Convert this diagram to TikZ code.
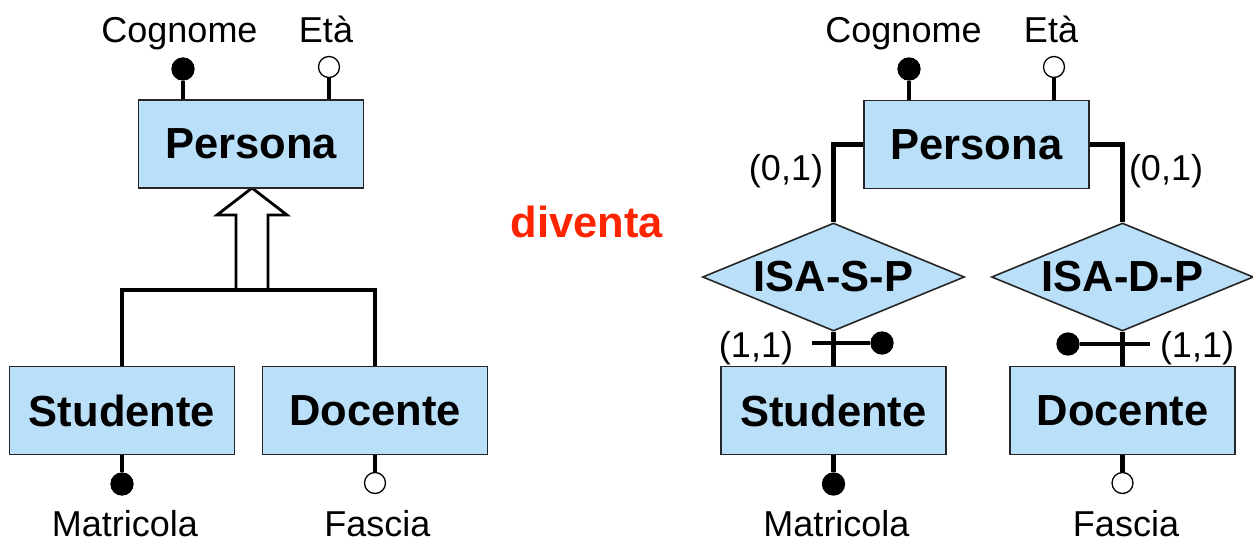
\documentclass[tikz,border=0pt]{standalone}
\usepackage{fontspec}
\setmainfont{Liberation Sans}
\usetikzlibrary{shapes.geometric}
\definecolor{entfill}{RGB}{186,223,248}
\definecolor{redtxt}{RGB}{255,36,0}
\begin{document}
\begin{tikzpicture}[x=1pt,y=-1pt,
  entity/.style={draw=black!85, fill=entfill, line width=1.6pt, minimum width=225pt, minimum height=88pt, inner sep=0pt, font=\fontsize{43.5}{48}\selectfont\bfseries},
  rel/.style={diamond, draw=black!85, fill=entfill, line width=1.6pt, aspect=2.43, minimum width=262pt, minimum height=108pt, inner sep=0pt, font=\fontsize{43.5}{48}\selectfont\bfseries},
  lab/.style={anchor=base, inner sep=0pt, font=\fontsize{36}{40}\selectfont},
  conn/.style={line width=4.3pt},
  keydot/.style={circle, fill=black, draw=black, line width=1.3pt, minimum size=22pt, inner sep=0pt},
  optdot/.style={circle, fill=white, draw=black, line width=1.3pt, minimum size=21pt, inner sep=0pt}
]
\useasboundingbox (0,0) rectangle (1253,543);

% ---------- left: generalization ----------
\draw[line width=2.8pt, fill=white, line join=miter] (236,291) -- (236,215) -- (217,215) -- (252,188) -- (287,215) -- (268,215) -- (268,291);
\node[entity] (p1) at (251,144) {Persona};
\node[entity] (s1) at (122,410.5) {Studente};
\node[entity] (d1) at (375,410.5) {Docente};
\coordinate (j1) at (122,290);
\draw[conn] (s1.north) -- (s1.north |- j1) -- (d1.north |- j1) -- (d1.north);

\node[keydot] (c1) at (183,69) {};
\node[optdot] (e1) at (329,67) {};
\draw[conn] (c1) -- (c1 |- p1.north);
\draw[conn] (e1) -- (e1 |- p1.north);
\node[lab] (lc1) at (179.5,43) {Cognome};
\node[lab] (le1) at (326,43) {Età};

\node[keydot] (m1) at (122,484) {};
\node[optdot] (f1) at (375,483) {};
\draw[conn] (m1) -- (m1 |- s1.south);
\draw[conn] (f1) -- (f1 |- d1.south);
\node[lab] (lm1) at (125,536) {Matricola};
\node[lab] (lf1) at (377.5,536) {Fascia};

% ---------- middle ----------
\node[anchor=base, inner sep=0pt, text=redtxt, font=\fontsize{43.5}{48}\selectfont\bfseries] (div) at (587,237) {diventa};

% ---------- right: translated schema ----------
\node[entity] (p2) at (976.5,144.5) {Persona};
\node[rel] (r1) at (833.5,277) {ISA-S-P};
\node[rel] (r2) at (1122.5,277) {ISA-D-P};
\node[entity] (s2) at (833.5,410.5) {Studente};
\node[entity] (d2) at (1122.5,410.5) {Docente};

\draw[conn] (p2.west) -- (r1.north |- p2.west) -- (r1.north);
\draw[conn] (p2.east) -- (r2.north |- p2.east) -- (r2.north);
\draw[conn] (r1.south) -- (s2.north);
\draw[conn] (r2.south) -- (d2.north);

\coordinate (x1) at (812,343);
\node[keydot] (k1) at (882,343) {};
\draw[conn] (x1) -- (k1);
\coordinate (x2) at (1150,344);
\node[keydot] (k2) at (1068,344) {};
\draw[conn] (x2) -- (k2);

\node[lab] (c01a) at (786,180) {(0,1)};
\node[lab] (c01b) at (1166,180) {(0,1)};
\node[lab] (c11a) at (756,357) {(1,1)};
\node[lab] (c11b) at (1197,357) {(1,1)};

\node[keydot] (c2) at (909,69) {};
\node[optdot] (e2) at (1054,67) {};
\draw[conn] (c2) -- (c2 |- p2.north);
\draw[conn] (e2) -- (e2 |- p2.north);
\node[lab] (lc2) at (903.5,43) {Cognome};
\node[lab] (le2) at (1051,43) {Età};

\node[keydot] (m2) at (833.5,484) {};
\node[optdot] (f2) at (1122.5,483) {};
\draw[conn] (m2) -- (m2 |- s2.south);
\draw[conn] (f2) -- (f2 |- d2.south);
\node[lab] (lm2) at (836.5,536) {Matricola};
\node[lab] (lf2) at (1126,536) {Fascia};
\end{tikzpicture}
\end{document}
